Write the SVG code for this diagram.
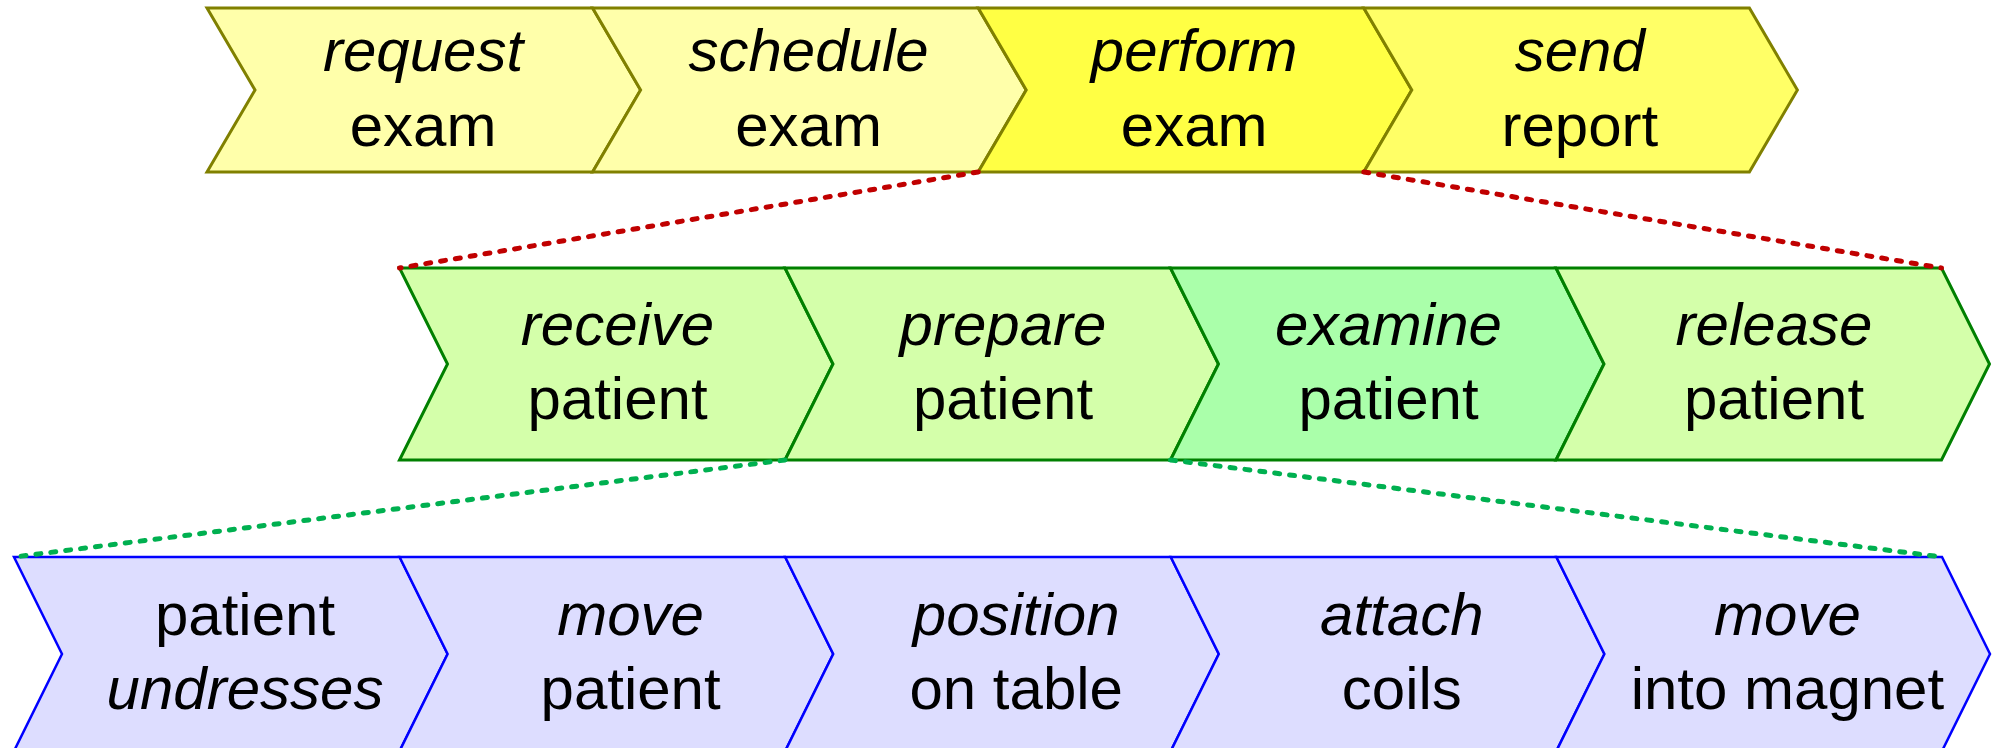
<svg xmlns="http://www.w3.org/2000/svg" width="1995" height="748" viewBox="0 0 1995 748">
<style>
text{font-family:"Liberation Sans",Arial,sans-serif;font-size:60px;fill:#000;text-anchor:middle}
.i{font-style:italic}
.y{stroke:#808000;stroke-width:3}
.g{stroke:#008000;stroke-width:3}
.b{stroke:#0000FF;stroke-width:2.5}
.red{stroke:#C00000;stroke-width:5;stroke-dasharray:5 10;stroke-linecap:round;fill:none}
.grn{stroke:#00B050;stroke-width:5;stroke-dasharray:5 10;stroke-linecap:round;fill:none}
</style>
<rect width="1995" height="748" fill="#fff"/>
<g id="request-exam">
<polygon class="y" fill="#FFFFAA" points="207,8 592.6,8 640.6,90 592.6,172 207,172 255,90"/>
<text class="i" x="423" y="71">request</text><text x="423" y="146">exam</text>
</g>
<g id="schedule-exam">
<polygon class="y" fill="#FFFFAA" points="592.6,8 978.2,8 1026.2,90 978.2,172 592.6,172 640.6,90"/>
<text class="i" x="808.6" y="71">schedule</text><text x="808.6" y="146">exam</text>
</g>
<g id="perform-exam">
<polygon class="y" fill="#FFFF44" points="978.2,8 1363.8,8 1411.8,90 1363.8,172 978.2,172 1026.2,90"/>
<text class="i" x="1194.2" y="71">perform</text><text x="1194.2" y="146">exam</text>
</g>
<g id="send-report">
<polygon class="y" fill="#FFFF66" points="1363.8,8 1749.4,8 1797.4,90 1749.4,172 1363.8,172 1411.8,90"/>
<text class="i" x="1579.8" y="71">send</text><text x="1579.8" y="146">report</text>
</g>
<g id="receive-patient">
<polygon class="g" fill="#D4FFAA" points="399.5,268 785,268 833,364 785,460 399.5,460 447.5,364"/>
<text class="i" x="617.5" y="345">receive</text><text x="617.5" y="419">patient</text>
</g>
<g id="prepare-patient">
<polygon class="g" fill="#D4FFAA" points="785,268 1170.5,268 1218.5,364 1170.5,460 785,460 833,364"/>
<text class="i" x="1003" y="345">prepare</text><text x="1003" y="419">patient</text>
</g>
<g id="examine-patient">
<polygon class="g" fill="#AAFFAA" points="1170.5,268 1556,268 1604,364 1556,460 1170.5,460 1218.5,364"/>
<text class="i" x="1388.5" y="345">examine</text><text x="1388.5" y="419">patient</text>
</g>
<g id="release-patient">
<polygon class="g" fill="#D4FFAA" points="1556,268 1941.5,268 1989.5,364 1941.5,460 1556,460 1604,364"/>
<text class="i" x="1774" y="345">release</text><text x="1774" y="419">patient</text>
</g>
<g id="patient-undresses">
<polygon class="b" fill="#DDDDFF" points="14,557 399.6,557 447.6,654 399.6,751 14,751 62,654"/>
<text x="245" y="635">patient</text><text class="i" x="245" y="709">undresses</text>
</g>
<g id="move-patient">
<polygon class="b" fill="#DDDDFF" points="399.6,557 785.2,557 833.2,654 785.2,751 399.6,751 447.6,654"/>
<text class="i" x="630.6" y="635">move</text><text x="630.6" y="709">patient</text>
</g>
<g id="position-on-table">
<polygon class="b" fill="#DDDDFF" points="785.2,557 1170.8,557 1218.8,654 1170.8,751 785.2,751 833.2,654"/>
<text class="i" x="1016.2" y="635">position</text><text x="1016.2" y="709">on table</text>
</g>
<g id="attach-coils">
<polygon class="b" fill="#DDDDFF" points="1170.8,557 1556.4,557 1604.4,654 1556.4,751 1170.8,751 1218.8,654"/>
<text class="i" x="1401.8" y="635">attach</text><text x="1401.8" y="709">coils</text>
</g>
<g id="move-into-magnet">
<polygon class="b" fill="#DDDDFF" points="1556.4,557 1942,557 1990,654 1942,751 1556.4,751 1604.4,654"/>
<text class="i" x="1787.4" y="635">move</text><text x="1787.4" y="709">into magnet</text>
</g>
<g id="connectors">
<line class="red" x1="978.2" y1="172" x2="399.5" y2="268"/>
<line class="red" x1="1363.8" y1="172" x2="1941.5" y2="268"/>
<line class="grn" x1="785" y1="460" x2="14" y2="557"/>
<line class="grn" x1="1170.5" y1="460" x2="1942" y2="557"/>
</g>
</svg>
